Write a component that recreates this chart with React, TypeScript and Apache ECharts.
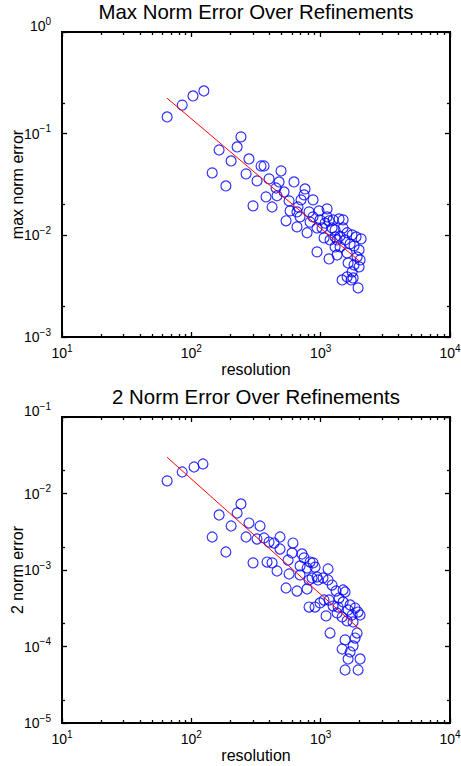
import React, { useEffect, useRef } from 'react';
import * as echarts from 'echarts';

const FONT = '"Liberation Sans", Arial, Helvetica, sans-serif';

// Max norm error panel
const maxNormRes = [65, 85, 103, 125, 242, 226, 164, 203, 279, 145, 265, 185, 346, 365, 322, 399, 452, 300, 378, 421,
  494, 477, 622, 460, 521, 570, 757, 744, 873, 705, 668, 580, 540, 656, 813, 971, 1121, 828, 785, 937,
  1025, 1161, 1247, 1388, 1062, 1182, 1293, 1161, 1340, 1413, 1545, 1689, 1491, 1750, 1879, 2054, 1813, 1982, 1913, 1601,
  1630, 1813, 1982, 1750, 1601, 1465, 1781, 1947, 1340, 1225, 1081, 937, 989, 873, 693, 656, 1121, 1293, 1413, 1491,
  1601, 1720, 2018, 1293];
const maxNormErr = [0.146, 0.191, 0.235, 0.263, 0.0929, 0.074, 0.0691, 0.0539, 0.0564, 0.0411, 0.0402, 0.0306, 0.0481, 0.0481, 0.0343, 0.0359, 0.0292, 0.0195, 0.0239, 0.019,
  0.043, 0.0335, 0.0335, 0.0245, 0.0267, 0.0218, 0.0286, 0.025, 0.0223, 0.0223, 0.019, 0.0174, 0.0139, 0.0121, 0.017, 0.0174, 0.0182, 0.0135, 0.0106, 0.00687,
  0.0118, 0.0139, 0.0142, 0.0145, 0.00943, 0.00901, 0.00964, 0.00586, 0.00641, 0.00769, 0.00901, 0.00823, 0.0118, 0.0101, 0.00964, 0.00922, 0.00787, 0.00718, 0.00613, 0.00671,
  0.00535, 0.00512, 0.00489, 0.00437, 0.0039, 0.00364, 0.00381, 0.00304, 0.00901, 0.0118, 0.0132, 0.0118, 0.0142, 0.0152, 0.0152, 0.017, 0.0152, 0.0113, 0.0098, 0.0142,
  0.0106, 0.00364, 0.00573, 0.00769];
const maxFitRes = [65, 2020];
const maxFitErr = [0.223, 0.0055];

// 2 norm error panel
const twoNormRes = [65, 85, 105, 123, 242, 226, 164, 203, 279, 340, 145, 265, 322, 365, 399, 436, 485, 185, 300, 385,
  421, 460, 611, 485, 560, 601, 718, 744, 693, 873, 905, 785, 570, 693, 858, 954, 1043, 1141, 540, 656,
  785, 813, 905, 989, 1101, 1062, 1225, 1316, 1388, 1161, 1247, 1340, 1491, 1630, 1846, 2018, 1750, 1601, 1781, 1182,
  1913, 1846, 1781, 1545, 1465, 1689, 1630, 2018, 1545, 1947, 1491, 1141, 937, 813, 828, 1545, 1465, 1947, 1364, 1689];
const twoNormErr = [0.0146, 0.0191, 0.0222, 0.0243, 0.0073, 0.00556, 0.00524, 0.00376, 0.00411, 0.00376, 0.0027, 0.0027, 0.00254, 0.00262, 0.00232, 0.00225, 0.0027, 0.00172, 0.00124, 0.00127,
  0.00124, 0.000971, 0.00225, 0.00188, 0.00135, 0.00167, 0.00162, 0.00144, 0.00113, 0.00124, 0.00109, 0.00106, 0.000887, 0.000861, 0.000786, 0.00074, 0.000786, 0.00103, 0.000582, 0.000531,
  0.000565, 0.000328, 0.000328, 0.000371, 0.000251, 0.000405, 0.000636, 0.000531, 0.00043, 0.000405, 0.000338, 0.000274, 0.000382, 0.0003, 0.000318, 0.000258, 0.000258, 0.000216, 0.000209, 0.00015,
  0.00015, 0.000129, 0.000102, 0.000122, 0.0000928, 0.0000848, 0.0000687, 0.0000687, 0.0000493, 0.0000493, 0.000548, 0.00074, 0.00081, 0.00074, 0.00127, 0.000516, 0.000243, 0.000282, 0.000328, 0.000349];
const twoFitRes = [65, 2020];
const twoFitErr = [0.0297, 0.000166];

const titles = ['Max Norm Error Over Refinements', '2 Norm Error Over Refinements'];
const yNames = ['max norm error', '2 norm error'];
const xName = 'resolution';
const xRange = [10, 10000];
const yRanges = [[0.001, 1], [0.00001, 0.1]];
const xMinorTicks = [20, 30, 40, 50, 60, 70, 80, 90, 200, 300, 400, 500, 600, 700, 800, 900, 2000, 3000, 4000, 5000, 6000, 7000, 8000, 9000];
const yMinorTicks = [[0.2, 0.02, 0.002], [0.02, 0.002, 0.0002, 0.00002]];

const zip = (a: number[], b: number[]) => a.map((v, i) => [v, b[i]]);

const rich = {
  b: { fontSize: 14, lineHeight: 20, fontFamily: FONT, color: '#000' },
  s: { fontSize: 10, lineHeight: 10, verticalAlign: 'top', fontFamily: FONT, color: '#000' },
  e: { fontSize: 10, lineHeight: 12, fontFamily: FONT },
};

const expStr = (v: number) => {
  const e = Math.round(Math.log10(v));
  return e < 0 ? '\u2212' + -e : String(e);
};

export default function App() {
  const ref = useRef<HTMLDivElement>(null);
  useEffect(() => {
    if (!ref.current) return;
    const chart = echarts.init(ref.current, null, { renderer: 'svg' });
    const gridBox = { show: true, borderColor: '#000000', borderWidth: 2, backgroundColor: 'rgba(0,0,0,0)', outerBoundsMode: 'none', containLabel: false };
    const grids = [
      { ...gridBox, left: 62, top: 32, width: 388, height: 305 },
      { ...gridBox, left: 62, top: 417, width: 388, height: 306 },
    ];
    const lineOn = () => ({ show: true, lineStyle: { color: '#000000', width: 2, opacity: 1 } });
    const lineOff = () => ({ show: false });
    const majorTick = () => ({ show: true, inside: true, length: 5, lineStyle: { color: '#000', width: 1.3, opacity: 1 } });
    const minorTick = (vals: number[]) => ({ show: true, inside: true, length: 3, customValues: vals, lineStyle: { color: '#000', width: 1.3, opacity: 1 } });
    const nameStyle = { fontSize: 16, fontFamily: FONT, color: '#000' };
    const xAxes: any[] = [];
    const yAxes: any[] = [];
    grids.forEach((_, g) => {
      const base = () => ({ type: 'log', logBase: 10, min: xRange[0], max: xRange[1], gridIndex: g, splitLine: { show: false }, z: 10 });
      xAxes.push({
        ...base(), position: 'bottom', axisLine: lineOn(), axisTick: majorTick(),
        axisLabel: { show: true, margin: 6, formatter: (v: number) => `{b|10}{s|${expStr(v)}}`, rich },
        name: xName, nameLocation: 'middle', nameGap: 24, nameMoveOverlap: false, nameTextStyle: nameStyle,
      });
      xAxes.push({ ...base(), position: 'top', axisLine: lineOn(), axisTick: majorTick(), axisLabel: { show: false } });
      xAxes.push({ ...base(), position: 'bottom', axisLine: lineOff(), axisTick: minorTick(xMinorTicks), axisLabel: { show: false } });
      xAxes.push({ ...base(), position: 'top', axisLine: lineOff(), axisTick: minorTick(xMinorTicks), axisLabel: { show: false } });
      const yr = yRanges[g];
      const ybase = () => ({ type: 'log', logBase: 10, min: yr[0], max: yr[1], gridIndex: g, splitLine: { show: false }, z: 10 });
      yAxes.push({
        ...ybase(), position: 'left', axisLine: lineOn(), axisTick: majorTick(),
        axisLabel: {
          show: true, margin: 11,
          formatter: (v: number) => {
            const s = `{b|10}{s|${expStr(v)}}`;
            return Math.abs(Math.log10(v) - Math.log10(yr[1])) < 1e-6 ? s + '\n{e| }' : s;
          },
          rich,
        },
        name: yNames[g], nameLocation: 'middle', nameGap: 37, nameMoveOverlap: false, nameTextStyle: nameStyle,
      });
      yAxes.push({ ...ybase(), position: 'right', axisLine: lineOn(), axisTick: majorTick(), axisLabel: { show: false } });
      yAxes.push({ ...ybase(), position: 'left', axisLine: lineOff(), axisTick: minorTick(yMinorTicks[g]), axisLabel: { show: false } });
      yAxes.push({ ...ybase(), position: 'right', axisLine: lineOff(), axisTick: minorTick(yMinorTicks[g]), axisLabel: { show: false } });
    });

    const scatterStyle = { color: 'rgba(0,0,0,0)', borderColor: '#0000ff', borderWidth: 1.2 };
    chart.setOption({
      animation: false,
      backgroundColor: '#fff',
      grid: grids,
      xAxis: xAxes,
      yAxis: yAxes,
      graphic: [
        { type: 'text', x: 256, y: 12, style: { text: titles[0], fontSize: 20.4, fontFamily: FONT, fill: '#000', align: 'center', verticalAlign: 'middle' } },
        { type: 'text', x: 256, y: 397, style: { text: titles[1], fontSize: 20.4, fontFamily: FONT, fill: '#000', align: 'center', verticalAlign: 'middle' } },
      ],
      series: [
        { type: 'scatter', xAxisIndex: 0, yAxisIndex: 0, data: zip(maxNormRes, maxNormErr), symbol: 'circle', symbolSize: 10, itemStyle: scatterStyle },
        { type: 'line', xAxisIndex: 0, yAxisIndex: 0, data: zip(maxFitRes, maxFitErr), symbol: 'none', lineStyle: { color: '#ff0000', width: 1 } },
        { type: 'scatter', xAxisIndex: 4, yAxisIndex: 4, data: zip(twoNormRes, twoNormErr), symbol: 'circle', symbolSize: 10, itemStyle: scatterStyle },
        { type: 'line', xAxisIndex: 4, yAxisIndex: 4, data: zip(twoFitRes, twoFitErr), symbol: 'none', lineStyle: { color: '#ff0000', width: 1 } },
      ],
    });
    return () => chart.dispose();
  }, []);
  return <div ref={ref} style={{ position: 'absolute', left: 0, top: 0, width: 461, height: 766, background: '#fff' }} />;
}
